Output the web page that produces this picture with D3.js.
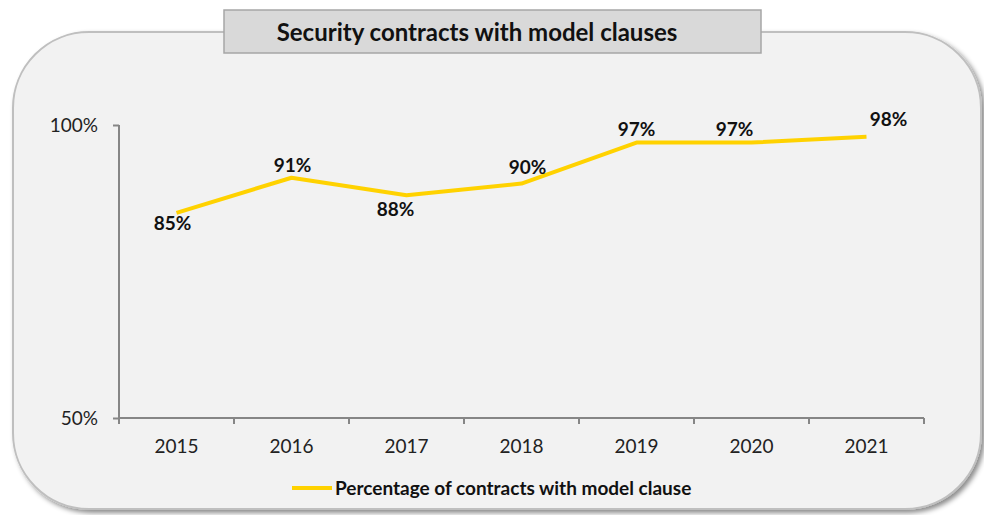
<!DOCTYPE html>
<html>
<head>
<meta charset="utf-8">
<script src="https://cdn.jsdelivr.net/npm/d3@7"></script>
<style>
  body { margin: 0; background: #ffffff; }
  svg { display: block; font-family: Lato, "Open Sans", sans-serif; }
</style>
</head>
<body>
<div id="chart"></div>
<script>
// chart data
var years = ["2015", "2016", "2017", "2018", "2019", "2020", "2021"];
var percentages = [85, 91, 88, 90, 97, 97, 98];
var yTicks = [50, 100];
var titleText = "Security contracts with model clauses";
var seriesName = "Percentage of contracts with model clause";

var drawChart = function(){

    var width = 984;
    var height = 515;
    var lineColor = "#ffd200";
    var axisColor = "#868686";

    var svg = d3.select("#chart")
        .append("svg")
        .attr("width", width)
        .attr("height", height);

    // drop shadow for the rounded panel
    var defs = svg.append("defs");
    var filter = defs.append("filter")
        .attr("id", "shadow")
        .attr("x", "-5%").attr("y", "-5%")
        .attr("width", "115%").attr("height", "115%");
    filter.append("feDropShadow")
        .attr("dx", 3).attr("dy", 3)
        .attr("stdDeviation", 2.5)
        .attr("flood-color", "#000")
        .attr("flood-opacity", 0.45);

    svg.append("rect")
        .attr("x", 13).attr("y", 32)
        .attr("width", 968).attr("height", 477)
        .attr("rx", 76).attr("ry", 76)
        .attr("fill", "#f2f2f2")
        .attr("stroke", "#bfbfbf")
        .attr("stroke-width", 2)
        .attr("filter", "url(#shadow)");

    // title box
    svg.append("rect")
        .attr("x", 224).attr("y", 10)
        .attr("width", 537).attr("height", 43)
        .attr("fill", "#d9d9d9")
        .attr("stroke", "#a6a6a6")
        .attr("stroke-width", 1.5);

    svg.append("text")
        .attr("x", 477).attr("y", 41)
        .attr("text-anchor", "middle")
        .style("font-size", "24px")
        .style("font-weight", "bold")
        .attr("fill", "#111")
        .text(titleText);

    // scales
    var x = d3.scaleBand()
        .domain(years)
        .range([119, 924]);

    var y = d3.scaleLinear()
        .domain([50, 100])
        .range([418, 125]);

    // y axis
    var yAxis = svg.append("g")
        .attr("transform", "translate(119,0)")
        .call(d3.axisLeft(y).tickValues(yTicks).tickSize(6).tickPadding(15)
            .tickFormat(function(d){ return d + "%"; }));
    yAxis.select(".domain").attr("stroke", axisColor).attr("stroke-width", 2)
        .attr("d", "M0," + y(100) + "V" + y(50));
    yAxis.selectAll(".tick line").attr("stroke", axisColor).attr("stroke-width", 2);
    yAxis.selectAll(".tick text")
        .style("font-size", "19px")
        .style("font-family", "Lato, sans-serif")
        .attr("fill", "#222");

    // x axis with ticks between categories
    var xAxis = svg.append("g")
        .attr("transform", "translate(0,418)");
    xAxis.append("line")
        .attr("x1", 119).attr("x2", 924)
        .attr("stroke", axisColor).attr("stroke-width", 2);
    var boundaries = years.map(function(d){ return x(d); }).concat([x(years[years.length - 1]) + x.bandwidth()]);
    xAxis.selectAll(".xtick")
        .data(boundaries)
        .enter().append("line")
        .attr("class", "xtick")
        .attr("x1", function(d){ return d; })
        .attr("x2", function(d){ return d; })
        .attr("y1", 0).attr("y2", 6)
        .attr("stroke", axisColor).attr("stroke-width", 2);
    xAxis.selectAll(".xlabel")
        .data(years)
        .enter().append("text")
        .attr("class", "xlabel")
        .attr("x", function(d){ return x(d) + x.bandwidth() / 2; })
        .attr("y", 35)
        .attr("text-anchor", "middle")
        .style("font-size", "19px")
        .attr("fill", "#222")
        .text(function(d){ return d; });

    // line
    var line = d3.line()
        .x(function(d, i){ return x(years[i]) + x.bandwidth() / 2; })
        .y(function(d){ return y(d); });

    svg.append("path")
        .datum(percentages)
        .attr("d", line)
        .attr("fill", "none")
        .attr("stroke", lineColor)
        .attr("stroke-width", 4)
        .attr("stroke-linejoin", "round");

    // data labels: offsets from each point, as placed in the original
    var labelDx = [-4, 1, -11, 6, 0, -17, 22];
    var labelDy = [17, -6, 21, -10, -7, -7, -11];
    svg.selectAll(".dlabel")
        .data(percentages)
        .enter().append("text")
        .attr("class", "dlabel")
        .attr("x", function(d, i){ return x(years[i]) + x.bandwidth() / 2 + labelDx[i]; })
        .attr("y", function(d, i){ return y(d) + labelDy[i]; })
        .attr("text-anchor", "middle")
        .style("font-size", "19px")
        .style("font-weight", "bold")
        .attr("fill", "#111")
        .text(function(d){ return d + "%"; });

    // legend
    var legend = svg.append("g").attr("transform", "translate(292,488)");
    legend.append("line")
        .attr("x1", 0).attr("x2", 40)
        .attr("stroke", lineColor).attr("stroke-width", 4);
    legend.append("text")
        .attr("x", 43).attr("y", 7)
        .style("font-size", "19px")
        .style("font-weight", "bold")
        .attr("fill", "#111")
        .text(seriesName);
}

drawChart();
</script>
</body>
</html>
